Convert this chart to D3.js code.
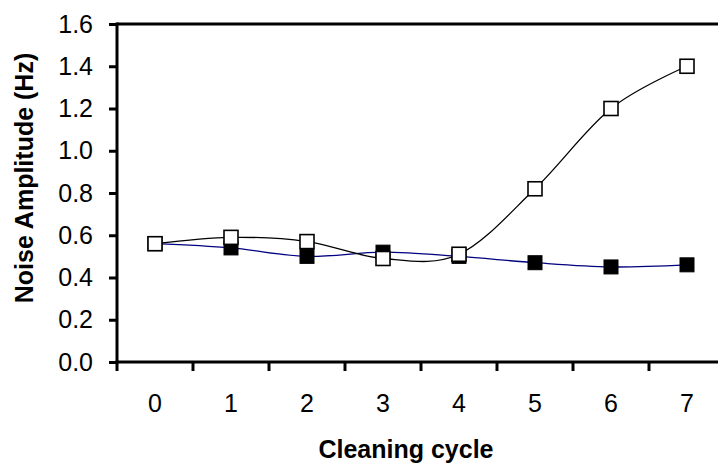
<!DOCTYPE html>
<html>
<head>
<meta charset="utf-8">
<script src="https://cdn.jsdelivr.net/npm/d3@7/dist/d3.min.js"></script>
<style>
  html, body { margin: 0; padding: 0; background: #fff; }
  svg { display: block; }
  text { font-family: Arial, "Liberation Sans", sans-serif; fill: #000; }
</style>
</head>
<body>
<svg id="chart" width="718" height="465"></svg>
<script>
// Noise amplitude per cleaning cycle, two sample series
const cycles = [0, 1, 2, 3, 4, 5, 6, 7];
const filledSeries = [0.56, 0.54, 0.50, 0.52, 0.50, 0.47, 0.45, 0.46];
const openSeries   = [0.56, 0.59, 0.57, 0.49, 0.51, 0.82, 1.20, 1.40];
const yTicks = [0, 0.2, 0.4, 0.6, 0.8, 1.0, 1.2, 1.4, 1.6];

const svg = d3.select("#chart");
const plot = { left: 117, top: 24, right: 725, bottom: 362 };
const fontStack = "Arial, 'Liberation Sans', sans-serif";

const x = d3.scaleBand().domain(cycles).range([plot.left, plot.right]).padding(0);
const y = d3.scaleLinear().domain([0, 1.6]).range([plot.bottom, plot.top]);

// top frame line
svg.append("line")
  .attr("x1", plot.left).attr("x2", plot.right)
  .attr("y1", plot.top).attr("y2", plot.top)
  .attr("stroke", "#000").attr("stroke-width", 3);

// y axis
const yAxis = svg.append("g")
  .attr("transform", `translate(${plot.left},0)`)
  .call(d3.axisLeft(y).tickValues(yTicks).tickFormat(d3.format(".1f")).tickSize(8).tickPadding(16));
yAxis.select(".domain").attr("stroke-width", 3).attr("d", `M0,${plot.bottom + 1.5}V${plot.top - 1.5}`);
yAxis.selectAll(".tick line").attr("stroke-width", 3);
yAxis.selectAll(".tick text").style("font-size", "25px").style("font-family", fontStack);

// x axis: labels centred in bands, ticks on band boundaries
const xAxis = svg.append("g")
  .attr("transform", `translate(0,${plot.bottom})`)
  .call(d3.axisBottom(x).tickSize(0).tickPadding(32));
xAxis.select(".domain").attr("stroke-width", 3).attr("d", `M${plot.left - 1.5},0H${plot.right}`);
xAxis.selectAll(".tick text").style("font-size", "25px").style("font-family", fontStack);
xAxis.selectAll(".bound")
  .data(cycles)
  .enter().append("line")
  .attr("class", "bound")
  .attr("x1", d => x(d)).attr("x2", d => x(d))
  .attr("y1", 0).attr("y2", 9)
  .attr("stroke", "#000").attr("stroke-width", 3);

// axis titles
svg.append("text")
  .attr("x", 406)
  .attr("y", 458)
  .attr("text-anchor", "middle")
  .style("font-size", "25px").style("font-weight", "bold")
  .text("Cleaning cycle");

svg.append("text")
  .attr("transform", `translate(33,178) rotate(-90)`)
  .attr("text-anchor", "middle")
  .style("font-size", "25px").style("font-weight", "bold")
  .text("Noise Amplitude (Hz)");

const cx = d => x(d) + x.bandwidth() / 2;
const line = d3.line().curve(d3.curveCatmullRom.alpha(0));

// filled series (navy line, black squares)
svg.append("path")
  .attr("d", line(cycles.map((c, i) => [cx(c), y(filledSeries[i])])))
  .attr("fill", "none").attr("stroke", "#000080").attr("stroke-width", 1.3);

// open series line
svg.append("path")
  .attr("d", line(cycles.map((c, i) => [cx(c), y(openSeries[i])])))
  .attr("fill", "none").attr("stroke", "#000").attr("stroke-width", 1.3);

const s = 14;
svg.selectAll(".mFilled")
  .data(cycles)
  .enter().append("rect")
  .attr("class", "mFilled")
  .attr("x", d => cx(d) - s / 2)
  .attr("y", (d, i) => y(filledSeries[i]) - s / 2)
  .attr("width", s).attr("height", s)
  .attr("fill", "#000").attr("stroke", "#000").attr("stroke-width", 1);

svg.selectAll(".mOpen")
  .data(cycles)
  .enter().append("rect")
  .attr("class", "mOpen")
  .attr("x", d => cx(d) - s / 2)
  .attr("y", (d, i) => y(openSeries[i]) - s / 2)
  .attr("width", s).attr("height", s)
  .attr("fill", "#fff").attr("stroke", "#000").attr("stroke-width", 1.6);
</script>
</body>
</html>
